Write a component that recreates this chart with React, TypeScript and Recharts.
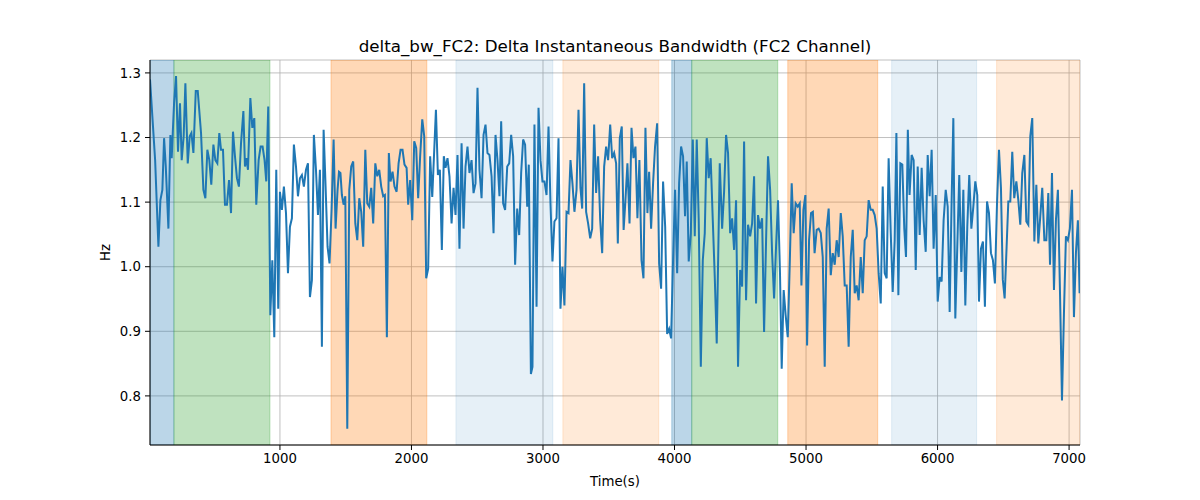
import React from "react";
import {
  LineChart,
  Line,
  XAxis,
  YAxis,
  CartesianGrid,
  ReferenceArea,
  Label,
} from "recharts";

// [time (s), delta bandwidth (Hz)]
const samples: [number, number][] = [
  [12, 1.29], [51, 1.165], [76, 1.031], [91, 1.103], [106, 1.119], [119, 1.199], [132, 1.155], [152, 1.059],
  [167, 1.204], [177, 1.168], [185, 1.207], [195, 1.253], [210, 1.295], [225, 1.178], [240, 1.253], [253, 1.165],
  [268, 1.202], [281, 1.284], [299, 1.16], [314, 1.202], [327, 1.207], [342, 1.176], [360, 1.272], [375, 1.272],
  [400, 1.207], [418, 1.119], [433, 1.106], [448, 1.181], [463, 1.165], [478, 1.127], [494, 1.189], [509, 1.165],
  [524, 1.16], [539, 1.207], [552, 1.181], [567, 1.181], [582, 1.096], [597, 1.096], [613, 1.134], [628, 1.083],
  [643, 1.209], [658, 1.171], [673, 1.137], [688, 1.124], [704, 1.191], [722, 1.241], [734, 1.155],
  [744, 1.168], [757, 1.15], [775, 1.261], [790, 1.215], [805, 1.23], [820, 1.096], [838, 1.165], [853, 1.186],
  [868, 1.186], [883, 1.165], [896, 1.132], [911, 1.248], [927, 0.925], [942, 1.01], [957, 0.891], [972, 1.15],
  [987, 0.935], [1000, 1.116], [1015, 1.088], [1030, 1.124], [1046, 1.083], [1061, 0.99], [1076, 1.062],
  [1091, 1.075], [1106, 1.189], [1122, 1.155], [1137, 1.109], [1152, 1.137], [1167, 1.142], [1182, 1.124],
  [1198, 1.15], [1213, 1.16], [1228, 0.953], [1243, 0.979], [1258, 1.204], [1274, 1.15], [1289, 1.08],
  [1304, 1.15], [1319, 0.876], [1332, 1.212], [1347, 1.124], [1362, 1.031], [1377, 1.005], [1393, 1.09],
  [1408, 1.197], [1423, 1.059], [1438, 1.119], [1449, 1.147],
  [1460, 1.145], [1471, 1.111], [1484, 1.096], [1497, 1.109], [1512, 0.749], [1527, 1.119], [1542, 1.155],
  [1557, 1.163], [1573, 1.067], [1588, 1.041], [1603, 1.106], [1618, 1.085], [1633, 1.031], [1649, 1.181],
  [1664, 1.098], [1679, 1.093], [1694, 1.122], [1709, 1.067], [1725, 1.16], [1740, 1.14], [1755, 1.15],
  [1770, 1.124], [1785, 1.109], [1798, 1.111], [1813, 0.891], [1828, 1.176], [1841, 1.132], [1856, 1.147],
  [1871, 1.124], [1887, 1.116], [1902, 1.16], [1917, 1.181], [1932, 1.181], [1947, 1.158], [1963, 1.153],
  [1975, 1.096], [1990, 1.134], [2006, 1.072], [2021, 1.194], [2036, 1.184], [2051, 1.106], [2066, 1.171],
  [2082, 1.228], [2097, 1.202], [2112, 0.982], [2127, 0.997], [2142, 1.171], [2158, 1.108], [2186, 1.243],
  [2201, 1.142], [2216, 1.15], [2231, 1.026], [2246, 1.171], [2259, 1.153], [2274, 1.168], [2289, 1.14],
  [2305, 1.067], [2320, 1.122], [2335, 1.08], [2350, 1.173], [2365, 1.028], [2381, 1.191], [2396, 1.059],
  [2411, 1.155], [2426, 1.186], [2441, 1.145], [2457, 1.165], [2472, 1.114], [2487, 1.129], [2502, 1.277],
  [2517, 1.15], [2533, 1.106], [2548, 1.204], [2563, 1.22], [2578, 1.176], [2593, 1.173], [2609, 1.14],
  [2624, 1.052], [2639, 1.204], [2654, 1.165], [2669, 1.109], [2682, 1.225], [2697, 1.098], [2712, 1.088],
  [2728, 1.155], [2743, 1.16], [2758, 1.204], [2773, 1.171], [2788, 1.003], [2804, 1.09], [2819, 1.049],
  [2834, 1.145], [2849, 1.197], [2864, 1.189], [2880, 1.093], [2892, 1.158],
  [2908, 0.834], [2920, 0.845], [2935, 1.22], [2951, 0.938], [2966, 1.246], [2981, 1.165], [2996, 1.132],
  [3011, 1.132], [3027, 1.111], [3042, 1.217], [3057, 1.098], [3072, 1.008], [3087, 1.07], [3103, 1.075],
  [3118, 1.199], [3133, 0.935], [3148, 1.0], [3163, 0.94], [3179, 1.085], [3194, 1.083], [3209, 1.165],
  [3224, 1.129], [3239, 1.085], [3255, 1.119], [3270, 1.243], [3285, 1.122], [3298, 1.09], [3313, 1.284],
  [3328, 1.085], [3343, 1.067], [3359, 1.044], [3374, 1.059], [3389, 1.22], [3404, 1.114], [3419, 1.171],
  [3435, 1.072], [3450, 1.021], [3465, 1.155], [3480, 1.186], [3495, 1.165], [3511, 1.22], [3526, 1.168],
  [3541, 1.176], [3556, 1.16], [3569, 1.036], [3584, 1.199], [3599, 1.217], [3613, 1.057],
  [3627, 1.103], [3642, 1.16], [3658, 1.067], [3673, 1.215], [3688, 1.168], [3703, 1.186], [3718, 1.075],
  [3733, 1.165], [3749, 1.01], [3764, 0.982], [3779, 1.215], [3794, 1.083], [3807, 1.147], [3822, 1.059],
  [3837, 1.129], [3852, 1.186], [3868, 1.222], [3883, 1.005], [3898, 0.966], [3913, 1.132], [3929, 1.062],
  [3944, 0.896], [3959, 0.904], [3974, 0.889], [3989, 1.01], [4004, 1.119], [4020, 0.99], [4035, 1.129],
  [4050, 1.186], [4065, 1.171], [4080, 1.078], [4093, 1.163], [4108, 1.008], [4124, 1.052], [4139, 1.197],
  [4154, 1.047], [4169, 1.197], [4184, 1.072], [4200, 0.845], [4215, 1.01], [4230, 1.052], [4245, 1.199],
  [4260, 1.137], [4275, 1.168], [4291, 1.072], [4306, 0.984], [4321, 0.881], [4344, 1.16],
  [4362, 1.059], [4377, 1.116], [4392, 1.204], [4407, 1.176], [4423, 1.052], [4438, 1.075], [4453, 1.026],
  [4468, 1.103], [4483, 0.845], [4499, 0.995], [4514, 0.969], [4529, 1.194], [4544, 0.948], [4559, 1.065],
  [4575, 1.047], [4590, 1.067], [4605, 1.14], [4620, 0.943], [4635, 1.08], [4650, 1.059], [4666, 1.075],
  [4681, 0.899], [4696, 1.039], [4711, 1.171], [4727, 1.119], [4742, 1.021], [4757, 0.951], [4772, 1.031],
  [4787, 1.103], [4802, 0.99], [4815, 0.842], [4830, 0.964], [4845, 0.925], [4861, 0.891], [4876, 1.003],
  [4891, 1.129], [4906, 1.052], [4921, 1.098], [4937, 1.093], [4952, 1.098], [4965, 0.971], [4980, 1.088],
  [4995, 1.111], [5008, 0.878], [5023, 1.041], [5038, 1.083], [5052, 1.085], [5065, 1.021],
  [5081, 1.057], [5096, 1.059], [5112, 1.052], [5127, 1.015], [5142, 0.845], [5157, 1.059], [5172, 1.09],
  [5188, 0.987], [5203, 1.021], [5218, 1.003], [5233, 1.041], [5248, 1.015], [5264, 1.083], [5279, 1.047],
  [5294, 0.971], [5309, 0.971], [5324, 0.876], [5340, 1.015], [5355, 1.057], [5370, 0.959], [5385, 0.971],
  [5400, 0.948], [5416, 1.015], [5431, 0.959], [5446, 1.041], [5461, 1.047], [5476, 1.103], [5492, 1.088],
  [5507, 1.088], [5522, 1.08], [5537, 1.059], [5552, 0.99], [5568, 0.943], [5583, 1.124], [5598, 0.99],
  [5613, 0.982], [5628, 1.168], [5644, 1.052], [5659, 0.961], [5674, 1.041], [5687, 1.207], [5702, 0.956],
  [5717, 1.16], [5732, 1.158], [5747, 1.059], [5760, 1.015], [5774, 1.212], [5787, 1.111],
  [5803, 1.173], [5818, 1.165], [5834, 0.995], [5849, 1.155], [5864, 1.049], [5879, 1.153], [5894, 1.072],
  [5910, 1.023], [5925, 1.173], [5940, 1.109], [5955, 1.181], [5970, 1.028], [5986, 1.111], [6001, 0.946],
  [6016, 0.984], [6031, 0.977], [6046, 1.072], [6062, 1.119], [6077, 1.093], [6092, 0.93], [6107, 1.103],
  [6120, 1.23], [6135, 0.92], [6150, 1.031], [6165, 1.142], [6181, 0.992], [6196, 1.119], [6211, 0.94],
  [6226, 1.062], [6241, 1.142], [6257, 1.059], [6272, 1.093], [6287, 1.132], [6302, 1.111], [6315, 0.946],
  [6330, 1.028], [6345, 1.039], [6360, 0.938], [6376, 1.101], [6391, 1.083], [6406, 1.021], [6421, 1.01],
  [6436, 0.974], [6452, 1.098], [6467, 1.181], [6482, 1.122], [6496, 0.98], [6510, 0.951],
  [6525, 1.031], [6538, 1.101], [6553, 1.101], [6568, 1.178], [6583, 1.106], [6599, 1.132], [6614, 1.103],
  [6629, 1.065], [6644, 1.145], [6660, 1.173], [6675, 1.07], [6690, 1.065], [6705, 1.202], [6720, 1.23],
  [6736, 1.039], [6751, 1.127], [6766, 1.036], [6781, 1.078], [6796, 1.122], [6812, 1.041], [6827, 1.041],
  [6842, 1.114], [6855, 1.003], [6870, 1.145], [6885, 0.964], [6900, 1.072], [6915, 1.119], [6931, 0.959],
  [6946, 0.793], [6961, 0.928], [6976, 1.047], [6991, 1.041], [7006, 1.059], [7022, 1.119], [7037, 0.922],
  [7052, 1.021], [7067, 1.072], [7080, 0.959],
];

// shaded segments: [start, end, colour, opacity]
const spans: [number, number, string, number][] = [
  [12, 194, "#1f77b4", 0.3],
  [194, 924, "#2ca02c", 0.3],
  [1388, 2117, "#ff7f0e", 0.3],
  [2338, 3075, "#1f77b4", 0.11],
  [3151, 3880, "#ff7f0e", 0.16],
  [3979, 4131, "#1f77b4", 0.3],
  [4131, 4785, "#2ca02c", 0.3],
  [4861, 5545, "#ff7f0e", 0.3],
  [5651, 6297, "#1f77b4", 0.11],
  [6449, 7083, "#ff7f0e", 0.16],
];

const xTicks = [1000, 2000, 3000, 4000, 5000, 6000, 7000];
const yTicks = [0.8, 0.9, 1.0, 1.1, 1.2, 1.3];

const X_DOMAIN: [number, number] = [12, 7083];
const Y_DOMAIN: [number, number] = [0.724, 1.32];

const TITLE = "delta_bw_FC2: Delta Instantaneous Bandwidth (FC2 Channel)";
const FONT = "'DejaVu Sans', sans-serif";
const tickStyle = { fontSize: 13.3, fill: "#000", fontFamily: FONT };

const data = samples.map(([t, v]) => ({ t, v }));

export default function App() {
  return (
    <div style={{ position: "absolute", left: 0, top: 0, width: 1200, height: 500, background: "#fff" }}>
      <div
        style={{
          position: "absolute",
          left: 150,
          top: 36,
          width: 930,
          textAlign: "center",
          fontFamily: FONT,
          fontSize: 16.7,
          lineHeight: "20px",
          color: "#000",
        }}
      >
        {TITLE}
      </div>
      <LineChart
        width={1200}
        height={500}
        data={data}
        margin={{ top: 60, right: 120, bottom: 25, left: 90 }}
      >
        <CartesianGrid stroke="#b0b0b0" strokeWidth={0.8} />
        {spans.map(([a, b, c, o], i) => (
          <ReferenceArea
            key={i}
            x1={a}
            x2={b}
            fill={c}
            fillOpacity={o}
            stroke={c}
            strokeOpacity={o}
            ifOverflow="hidden"
          />
        ))}
        <XAxis
          dataKey="t"
          type="number"
          domain={X_DOMAIN}
          ticks={xTicks}
          allowDataOverflow
          height={30}
          tick={tickStyle}
          tickSize={5}
          tickMargin={4}
          stroke="#000"
          tickLine={{ stroke: "#000" }}
        >
          <Label
            content={({ viewBox }: any) => (
              <text
                x={viewBox.x + viewBox.width / 2}
                y={viewBox.y + 41}
                textAnchor="middle"
                fontFamily={FONT}
                fontSize={13.3}
                fill="#000"
              >
                Time(s)
              </text>
            )}
          />
        </XAxis>
        <XAxis
          xAxisId="top"
          orientation="top"
          type="number"
          domain={X_DOMAIN}
          height={0}
          tick={false}
          tickLine={false}
          stroke="#000"
        />
        <YAxis
          type="number"
          domain={Y_DOMAIN}
          ticks={yTicks}
          allowDataOverflow
          width={60}
          tick={tickStyle}
          tickSize={5}
          tickMargin={4}
          tickFormatter={(v: number) => v.toFixed(1)}
          stroke="#000"
          tickLine={{ stroke: "#000" }}
        >
          <Label
            content={({ viewBox }: any) => {
              const cx = viewBox.x + 20;
              const cy = viewBox.y + viewBox.height / 2;
              return (
                <text
                  x={cx}
                  y={cy}
                  transform={`rotate(-90 ${cx} ${cy})`}
                  textAnchor="middle"
                  fontFamily={FONT}
                  fontSize={13.3}
                  fill="#000"
                >
                  Hz
                </text>
              );
            }}
          />
        </YAxis>
        <YAxis
          yAxisId="right"
          orientation="right"
          type="number"
          domain={Y_DOMAIN}
          width={0}
          tick={false}
          tickLine={false}
          stroke="#000"
        />
        <Line
          type="linear"
          dataKey="v"
          stroke="#1f77b4"
          strokeWidth={2}
          dot={false}
          isAnimationActive={false}
        />
      </LineChart>
    </div>
  );
}
